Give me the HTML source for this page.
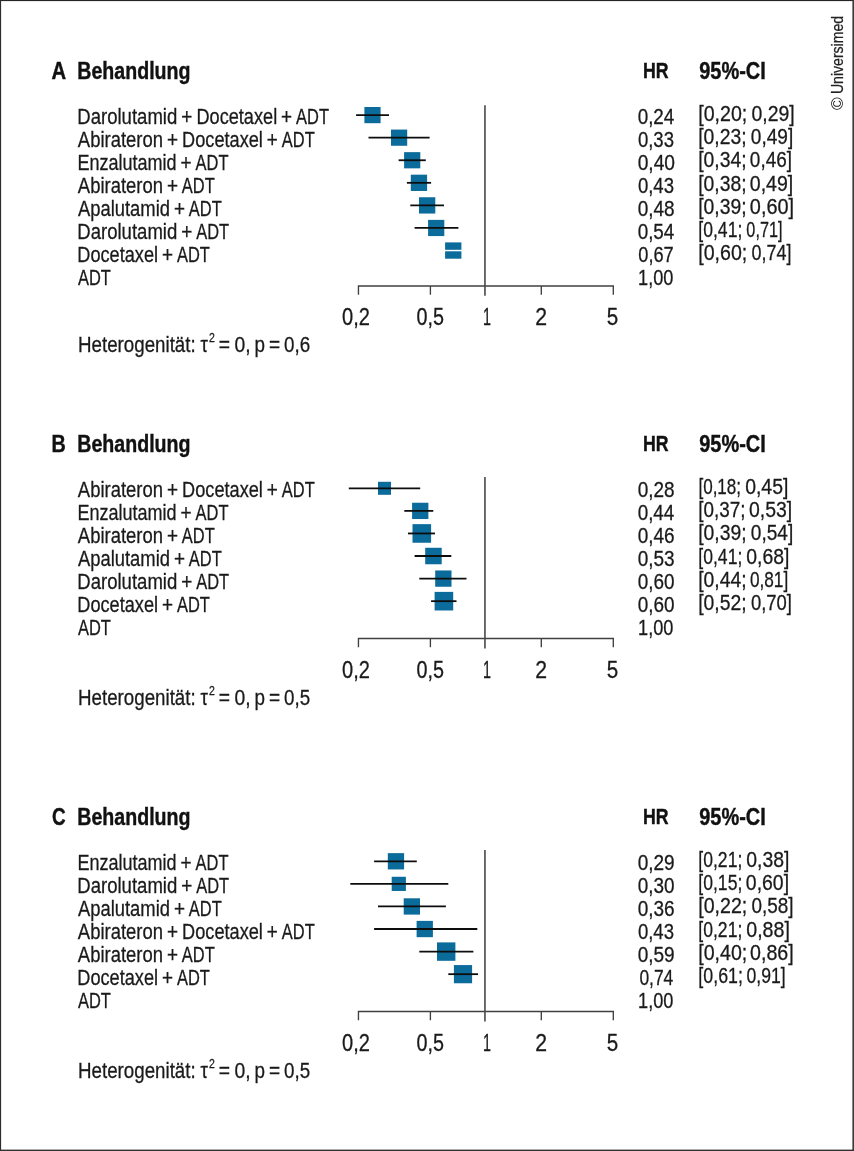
<!DOCTYPE html>
<html lang="de"><head><meta charset="utf-8"><title>Forest plots</title>
<style>
html,body{margin:0;padding:0;background:#fff}
body{width:854px;height:1151px;overflow:hidden;position:relative}
svg{display:block;position:absolute;left:0;top:0}
text{font-family:"Liberation Sans",sans-serif;fill:#1a1a1a;stroke:#1a1a1a;stroke-width:0.3px}
.r{font-size:22.5px}
.h{font-size:22.7px}
.ci{font-size:22.8px}
.t{font-size:23.8px}
.sup{font-size:13.2px}
.b{font-size:23.1px;font-weight:bold;fill:#111;stroke:#111;stroke-width:0.4px}
.b2{font-size:22.1px;font-weight:bold;fill:#111;stroke:#111;stroke-width:0.4px}
.b3{font-size:23.2px;font-weight:bold;fill:#111;stroke:#111;stroke-width:0.4px}
.c{font-size:16.6px}
.c{fill:#222;stroke:#222;stroke-width:0.25px}
</style></head><body>
<svg width="854" height="1151" viewBox="0 0 854 1151">
<rect x="0" y="0" width="854" height="1151" fill="#fff"/>
<rect x="0" y="0" width="854" height="1.1" fill="#262626"/>
<rect x="0" y="0" width="1.1" height="1151" fill="#2c2c2c"/>
<rect x="852.4" y="0" width="1.6" height="1151" fill="#3a3a3a"/>
<rect x="0" y="1149.6" width="854" height="1.4" fill="#333"/>
<g>
<text class="b" x="51.51" y="78.90" textLength="14.62" lengthAdjust="spacingAndGlyphs">A</text>
<text class="b" x="77.31" y="78.90" textLength="113.19" lengthAdjust="spacingAndGlyphs">Behandlung</text>
<text class="b2" x="642.93" y="77.60" textLength="25.63" lengthAdjust="spacingAndGlyphs">HR</text>
<text class="b3" x="699.22" y="79.20" textLength="66.61" lengthAdjust="spacingAndGlyphs">95%-CI</text>
<path d="M358.45 294.8 V285.95 H613.3 V294.8 M430.4 285.95 v8.8 M541.3 285.95 v8.8" fill="none" stroke="#404040" stroke-width="1.35"/>
<path d="M484.95 105.3 V295.8" stroke="#484848" stroke-width="1.6" fill="none"/>
<text class="t" x="342.12" y="325.15" textLength="27.89" lengthAdjust="spacingAndGlyphs">0,2</text>
<text class="t" x="416.53" y="325.15" textLength="27.48" lengthAdjust="spacingAndGlyphs">0,5</text>
<text class="t" x="482.91" y="325.15" textLength="7.98" lengthAdjust="spacingAndGlyphs">1</text>
<text class="t" x="535.34" y="325.15" textLength="11.83" lengthAdjust="spacingAndGlyphs">2</text>
<text class="t" x="606.67" y="325.15" textLength="11.47" lengthAdjust="spacingAndGlyphs">5</text>
<text class="r" y="123.80"><tspan x="77.28" textLength="100.01" lengthAdjust="spacingAndGlyphs">Darolutamid</tspan> <tspan x="181.19" textLength="11.03" lengthAdjust="spacingAndGlyphs">+</tspan> <tspan x="196.41" textLength="80.79" lengthAdjust="spacingAndGlyphs">Docetaxel</tspan> <tspan x="281.09" textLength="11.03" lengthAdjust="spacingAndGlyphs">+</tspan> <tspan x="296.07" textLength="32.91" lengthAdjust="spacingAndGlyphs">ADT</tspan></text>
<text class="h" x="637.66" y="123.60" textLength="36.69" lengthAdjust="spacingAndGlyphs">0,24</text>
<text class="ci" y="121.35"><tspan x="698.21" textLength="49.06" lengthAdjust="spacingAndGlyphs">[0,20;</tspan> <tspan x="751.54" textLength="43.24" lengthAdjust="spacingAndGlyphs">0,29]</tspan></text>
<rect x="364.4" y="107.00" width="16.2" height="16.2" fill="#0b6b9b"/>
<path d="M356.1 115.10 H389.0" stroke="#0d0d0d" stroke-width="1.8" fill="none"/>
<text class="r" y="146.80"><tspan x="77.86" textLength="85.11" lengthAdjust="spacingAndGlyphs">Abirateron</tspan> <tspan x="166.89" textLength="11.03" lengthAdjust="spacingAndGlyphs">+</tspan> <tspan x="182.11" textLength="80.79" lengthAdjust="spacingAndGlyphs">Docetaxel</tspan> <tspan x="266.79" textLength="11.03" lengthAdjust="spacingAndGlyphs">+</tspan> <tspan x="281.77" textLength="32.91" lengthAdjust="spacingAndGlyphs">ADT</tspan></text>
<text class="h" x="637.88" y="146.63" textLength="36.13" lengthAdjust="spacingAndGlyphs">0,33</text>
<text class="ci" y="144.42"><tspan x="698.23" textLength="48.41" lengthAdjust="spacingAndGlyphs">[0,23;</tspan> <tspan x="750.86" textLength="42.40" lengthAdjust="spacingAndGlyphs">0,49]</tspan></text>
<rect x="391.0" y="129.57" width="16.2" height="16.2" fill="#0b6b9b"/>
<path d="M368.5 137.67 H429.6" stroke="#0d0d0d" stroke-width="1.8" fill="none"/>
<text class="r" y="169.80"><tspan x="77.52" textLength="99.13" lengthAdjust="spacingAndGlyphs">Enzalutamid</tspan> <tspan x="180.59" textLength="11.03" lengthAdjust="spacingAndGlyphs">+</tspan> <tspan x="195.57" textLength="32.91" lengthAdjust="spacingAndGlyphs">ADT</tspan></text>
<text class="h" x="637.65" y="169.66" textLength="37.38" lengthAdjust="spacingAndGlyphs">0,40</text>
<text class="ci" y="167.49"><tspan x="698.23" textLength="48.41" lengthAdjust="spacingAndGlyphs">[0,34;</tspan> <tspan x="749.86" textLength="42.08" lengthAdjust="spacingAndGlyphs">0,46]</tspan></text>
<rect x="404.1" y="152.15" width="16.2" height="16.2" fill="#0b6b9b"/>
<path d="M398.6 160.25 H425.8" stroke="#0d0d0d" stroke-width="1.8" fill="none"/>
<text class="r" y="192.80"><tspan x="77.86" textLength="85.11" lengthAdjust="spacingAndGlyphs">Abirateron</tspan> <tspan x="166.89" textLength="11.03" lengthAdjust="spacingAndGlyphs">+</tspan> <tspan x="181.87" textLength="32.91" lengthAdjust="spacingAndGlyphs">ADT</tspan></text>
<text class="h" x="637.88" y="192.69" textLength="36.13" lengthAdjust="spacingAndGlyphs">0,43</text>
<text class="ci" y="190.56"><tspan x="698.23" textLength="48.41" lengthAdjust="spacingAndGlyphs">[0,38;</tspan> <tspan x="749.84" textLength="43.45" lengthAdjust="spacingAndGlyphs">0,49]</tspan></text>
<rect x="410.8" y="174.67" width="16.3" height="16.3" fill="#0b6b9b"/>
<path d="M406.9 182.82 H431.1" stroke="#0d0d0d" stroke-width="1.8" fill="none"/>
<text class="r" y="215.80"><tspan x="77.96" textLength="92.01" lengthAdjust="spacingAndGlyphs">Apalutamid</tspan> <tspan x="173.89" textLength="11.03" lengthAdjust="spacingAndGlyphs">+</tspan> <tspan x="188.87" textLength="32.91" lengthAdjust="spacingAndGlyphs">ADT</tspan></text>
<text class="h" x="637.66" y="215.72" textLength="36.96" lengthAdjust="spacingAndGlyphs">0,48</text>
<text class="ci" y="213.63"><tspan x="698.23" textLength="48.41" lengthAdjust="spacingAndGlyphs">[0,39;</tspan> <tspan x="749.82" textLength="44.29" lengthAdjust="spacingAndGlyphs">0,60]</tspan></text>
<rect x="419.0" y="197.25" width="16.3" height="16.3" fill="#0b6b9b"/>
<path d="M410.3 205.40 H444.0" stroke="#0d0d0d" stroke-width="1.8" fill="none"/>
<text class="r" y="238.80"><tspan x="77.28" textLength="100.01" lengthAdjust="spacingAndGlyphs">Darolutamid</tspan> <tspan x="181.19" textLength="11.03" lengthAdjust="spacingAndGlyphs">+</tspan> <tspan x="196.17" textLength="32.91" lengthAdjust="spacingAndGlyphs">ADT</tspan></text>
<text class="h" x="637.66" y="238.75" textLength="36.69" lengthAdjust="spacingAndGlyphs">0,54</text>
<text class="ci" y="236.70"><tspan x="698.35" textLength="43.93" lengthAdjust="spacingAndGlyphs">[0,41;</tspan> <tspan x="746.37" textLength="36.09" lengthAdjust="spacingAndGlyphs">0,71]</tspan></text>
<rect x="428.1" y="219.88" width="16.2" height="16.2" fill="#0b6b9b"/>
<path d="M414.6 227.97 H458.4" stroke="#0d0d0d" stroke-width="1.8" fill="none"/>
<text class="r" y="261.80"><tspan x="77.31" textLength="80.79" lengthAdjust="spacingAndGlyphs">Docetaxel</tspan> <tspan x="161.99" textLength="11.03" lengthAdjust="spacingAndGlyphs">+</tspan> <tspan x="176.97" textLength="32.91" lengthAdjust="spacingAndGlyphs">ADT</tspan></text>
<text class="h" x="638.29" y="261.78" textLength="35.43" lengthAdjust="spacingAndGlyphs">0,67</text>
<text class="ci" y="259.77"><tspan x="698.21" textLength="49.06" lengthAdjust="spacingAndGlyphs">[0,60;</tspan> <tspan x="751.60" textLength="39.87" lengthAdjust="spacingAndGlyphs">0,74]</tspan></text>
<rect x="445.1" y="242.40" width="16.3" height="16.3" fill="#0b6b9b"/>
<path d="M444.6 250.55 H461.9" stroke="#fff" stroke-width="1.5" fill="none"/>
<text class="r" y="284.80"><tspan x="77.97" textLength="32.91" lengthAdjust="spacingAndGlyphs">ADT</tspan></text>
<text class="h" x="638.12" y="284.81" textLength="35.38" lengthAdjust="spacingAndGlyphs">1,00</text>
<text class="r" y="351.75"><tspan x="78.06" textLength="117.64" lengthAdjust="spacingAndGlyphs">Heterogenität:</tspan> <tspan x="200.54" textLength="7.41" lengthAdjust="spacingAndGlyphs">τ</tspan></text>
<text class="sup" x="209.07" y="341.95" textLength="5.85" lengthAdjust="spacingAndGlyphs">2</text>
<text class="r" y="351.75"><tspan x="218.87" textLength="11.27" lengthAdjust="spacingAndGlyphs">=</tspan> <tspan x="234.45" textLength="16.09" lengthAdjust="spacingAndGlyphs">0,</tspan> <tspan x="254.49" textLength="10.48" lengthAdjust="spacingAndGlyphs">p</tspan> <tspan x="268.88" textLength="11.15" lengthAdjust="spacingAndGlyphs">=</tspan> <tspan x="283.97" textLength="26.14" lengthAdjust="spacingAndGlyphs">0,6</tspan></text>
</g>
<g>
<text class="b" x="51.59" y="451.90" textLength="14.30" lengthAdjust="spacingAndGlyphs">B</text>
<text class="b" x="77.31" y="451.90" textLength="113.19" lengthAdjust="spacingAndGlyphs">Behandlung</text>
<text class="b2" x="642.93" y="450.60" textLength="25.63" lengthAdjust="spacingAndGlyphs">HR</text>
<text class="b3" x="699.22" y="452.20" textLength="66.61" lengthAdjust="spacingAndGlyphs">95%-CI</text>
<path d="M358.45 647.3 V638.5 H613.3 V647.3 M430.4 638.5 v8.8 M541.3 638.5 v8.8" fill="none" stroke="#404040" stroke-width="1.35"/>
<path d="M484.95 477.1 V648.4" stroke="#484848" stroke-width="1.6" fill="none"/>
<text class="t" x="342.12" y="677.70" textLength="27.89" lengthAdjust="spacingAndGlyphs">0,2</text>
<text class="t" x="416.53" y="677.70" textLength="27.48" lengthAdjust="spacingAndGlyphs">0,5</text>
<text class="t" x="482.91" y="677.70" textLength="7.98" lengthAdjust="spacingAndGlyphs">1</text>
<text class="t" x="535.34" y="677.70" textLength="11.83" lengthAdjust="spacingAndGlyphs">2</text>
<text class="t" x="606.67" y="677.70" textLength="11.47" lengthAdjust="spacingAndGlyphs">5</text>
<text class="r" y="496.80"><tspan x="77.86" textLength="85.11" lengthAdjust="spacingAndGlyphs">Abirateron</tspan> <tspan x="166.89" textLength="11.03" lengthAdjust="spacingAndGlyphs">+</tspan> <tspan x="182.11" textLength="80.79" lengthAdjust="spacingAndGlyphs">Docetaxel</tspan> <tspan x="266.79" textLength="11.03" lengthAdjust="spacingAndGlyphs">+</tspan> <tspan x="281.77" textLength="32.91" lengthAdjust="spacingAndGlyphs">ADT</tspan></text>
<text class="h" x="637.66" y="496.60" textLength="36.96" lengthAdjust="spacingAndGlyphs">0,28</text>
<text class="ci" y="494.35"><tspan x="698.39" textLength="42.75" lengthAdjust="spacingAndGlyphs">[0,18;</tspan> <tspan x="745.14" textLength="43.24" lengthAdjust="spacingAndGlyphs">0,45]</tspan></text>
<rect x="378.0" y="481.80" width="13.0" height="13.0" fill="#0b6b9b"/>
<path d="M348.8 488.30 H420.2" stroke="#0d0d0d" stroke-width="1.8" fill="none"/>
<text class="r" y="519.80"><tspan x="77.52" textLength="99.13" lengthAdjust="spacingAndGlyphs">Enzalutamid</tspan> <tspan x="180.59" textLength="11.03" lengthAdjust="spacingAndGlyphs">+</tspan> <tspan x="195.57" textLength="32.91" lengthAdjust="spacingAndGlyphs">ADT</tspan></text>
<text class="h" x="637.66" y="519.63" textLength="36.69" lengthAdjust="spacingAndGlyphs">0,44</text>
<text class="ci" y="517.42"><tspan x="698.26" textLength="47.24" lengthAdjust="spacingAndGlyphs">[0,37;</tspan> <tspan x="748.94" textLength="43.24" lengthAdjust="spacingAndGlyphs">0,53]</tspan></text>
<rect x="412.1" y="502.73" width="16.3" height="16.3" fill="#0b6b9b"/>
<path d="M404.3 510.88 H433.3" stroke="#0d0d0d" stroke-width="1.8" fill="none"/>
<text class="r" y="542.80"><tspan x="77.86" textLength="85.11" lengthAdjust="spacingAndGlyphs">Abirateron</tspan> <tspan x="166.89" textLength="11.03" lengthAdjust="spacingAndGlyphs">+</tspan> <tspan x="181.87" textLength="32.91" lengthAdjust="spacingAndGlyphs">ADT</tspan></text>
<text class="h" x="637.66" y="542.66" textLength="36.96" lengthAdjust="spacingAndGlyphs">0,46</text>
<text class="ci" y="540.49"><tspan x="698.23" textLength="48.41" lengthAdjust="spacingAndGlyphs">[0,39;</tspan> <tspan x="750.86" textLength="42.40" lengthAdjust="spacingAndGlyphs">0,54]</tspan></text>
<rect x="412.5" y="524.15" width="18.6" height="18.6" fill="#0b6b9b"/>
<path d="M408.0 533.45 H435.0" stroke="#0d0d0d" stroke-width="1.8" fill="none"/>
<text class="r" y="565.80"><tspan x="77.96" textLength="92.01" lengthAdjust="spacingAndGlyphs">Apalutamid</tspan> <tspan x="173.89" textLength="11.03" lengthAdjust="spacingAndGlyphs">+</tspan> <tspan x="188.87" textLength="32.91" lengthAdjust="spacingAndGlyphs">ADT</tspan></text>
<text class="h" x="637.66" y="565.69" textLength="36.96" lengthAdjust="spacingAndGlyphs">0,53</text>
<text class="ci" y="563.56"><tspan x="698.35" textLength="43.93" lengthAdjust="spacingAndGlyphs">[0,41;</tspan> <tspan x="746.24" textLength="43.24" lengthAdjust="spacingAndGlyphs">0,68]</tspan></text>
<rect x="425.2" y="547.77" width="16.5" height="16.5" fill="#0b6b9b"/>
<path d="M414.6 556.02 H451.3" stroke="#0d0d0d" stroke-width="1.8" fill="none"/>
<text class="r" y="588.80"><tspan x="77.28" textLength="100.01" lengthAdjust="spacingAndGlyphs">Darolutamid</tspan> <tspan x="181.19" textLength="11.03" lengthAdjust="spacingAndGlyphs">+</tspan> <tspan x="196.17" textLength="32.91" lengthAdjust="spacingAndGlyphs">ADT</tspan></text>
<text class="h" x="637.66" y="588.72" textLength="36.86" lengthAdjust="spacingAndGlyphs">0,60</text>
<text class="ci" y="586.63"><tspan x="698.23" textLength="48.41" lengthAdjust="spacingAndGlyphs">[0,44;</tspan> <tspan x="749.93" textLength="38.30" lengthAdjust="spacingAndGlyphs">0,81]</tspan></text>
<rect x="435.2" y="570.45" width="16.3" height="16.3" fill="#0b6b9b"/>
<path d="M419.3 578.60 H466.5" stroke="#0d0d0d" stroke-width="1.8" fill="none"/>
<text class="r" y="611.80"><tspan x="77.31" textLength="80.79" lengthAdjust="spacingAndGlyphs">Docetaxel</tspan> <tspan x="161.99" textLength="11.03" lengthAdjust="spacingAndGlyphs">+</tspan> <tspan x="176.97" textLength="32.91" lengthAdjust="spacingAndGlyphs">ADT</tspan></text>
<text class="h" x="637.66" y="611.75" textLength="36.86" lengthAdjust="spacingAndGlyphs">0,60</text>
<text class="ci" y="609.70"><tspan x="698.23" textLength="48.41" lengthAdjust="spacingAndGlyphs">[0,52;</tspan> <tspan x="750.88" textLength="41.03" lengthAdjust="spacingAndGlyphs">0,70]</tspan></text>
<rect x="434.6" y="591.88" width="18.6" height="18.6" fill="#0b6b9b"/>
<path d="M431.1 601.17 H456.5" stroke="#0d0d0d" stroke-width="1.8" fill="none"/>
<text class="r" y="634.80"><tspan x="77.97" textLength="32.91" lengthAdjust="spacingAndGlyphs">ADT</tspan></text>
<text class="h" x="638.12" y="634.78" textLength="35.38" lengthAdjust="spacingAndGlyphs">1,00</text>
<text class="r" y="704.60"><tspan x="78.06" textLength="117.64" lengthAdjust="spacingAndGlyphs">Heterogenität:</tspan> <tspan x="200.54" textLength="7.41" lengthAdjust="spacingAndGlyphs">τ</tspan></text>
<text class="sup" x="209.07" y="694.80" textLength="5.85" lengthAdjust="spacingAndGlyphs">2</text>
<text class="r" y="704.60"><tspan x="218.87" textLength="11.27" lengthAdjust="spacingAndGlyphs">=</tspan> <tspan x="234.45" textLength="16.09" lengthAdjust="spacingAndGlyphs">0,</tspan> <tspan x="254.49" textLength="10.48" lengthAdjust="spacingAndGlyphs">p</tspan> <tspan x="268.88" textLength="11.15" lengthAdjust="spacingAndGlyphs">=</tspan> <tspan x="283.97" textLength="26.10" lengthAdjust="spacingAndGlyphs">0,5</tspan></text>
</g>
<g>
<text class="b" x="51.92" y="824.90" textLength="13.69" lengthAdjust="spacingAndGlyphs">C</text>
<text class="b" x="77.31" y="824.90" textLength="113.19" lengthAdjust="spacingAndGlyphs">Behandlung</text>
<text class="b2" x="642.93" y="823.60" textLength="25.63" lengthAdjust="spacingAndGlyphs">HR</text>
<text class="b3" x="699.22" y="825.20" textLength="66.61" lengthAdjust="spacingAndGlyphs">95%-CI</text>
<path d="M358.45 1020.3 V1011.5 H613.3 V1020.3 M430.4 1011.5 v8.8 M541.3 1011.5 v8.8" fill="none" stroke="#404040" stroke-width="1.35"/>
<path d="M484.95 850.1 V1021.4" stroke="#484848" stroke-width="1.6" fill="none"/>
<text class="t" x="342.12" y="1050.70" textLength="27.89" lengthAdjust="spacingAndGlyphs">0,2</text>
<text class="t" x="416.53" y="1050.70" textLength="27.48" lengthAdjust="spacingAndGlyphs">0,5</text>
<text class="t" x="482.91" y="1050.70" textLength="7.98" lengthAdjust="spacingAndGlyphs">1</text>
<text class="t" x="535.34" y="1050.70" textLength="11.83" lengthAdjust="spacingAndGlyphs">2</text>
<text class="t" x="606.67" y="1050.70" textLength="11.47" lengthAdjust="spacingAndGlyphs">5</text>
<text class="r" y="869.80"><tspan x="77.52" textLength="99.13" lengthAdjust="spacingAndGlyphs">Enzalutamid</tspan> <tspan x="180.59" textLength="11.03" lengthAdjust="spacingAndGlyphs">+</tspan> <tspan x="195.57" textLength="32.91" lengthAdjust="spacingAndGlyphs">ADT</tspan></text>
<text class="h" x="637.66" y="869.60" textLength="37.04" lengthAdjust="spacingAndGlyphs">0,29</text>
<text class="ci" y="867.35"><tspan x="698.35" textLength="43.93" lengthAdjust="spacingAndGlyphs">[0,21;</tspan> <tspan x="746.24" textLength="43.24" lengthAdjust="spacingAndGlyphs">0,38]</tspan></text>
<rect x="387.8" y="853.15" width="16.3" height="16.3" fill="#0b6b9b"/>
<path d="M374.1 861.30 H416.8" stroke="#0d0d0d" stroke-width="1.8" fill="none"/>
<text class="r" y="892.80"><tspan x="77.28" textLength="100.01" lengthAdjust="spacingAndGlyphs">Darolutamid</tspan> <tspan x="181.19" textLength="11.03" lengthAdjust="spacingAndGlyphs">+</tspan> <tspan x="196.17" textLength="32.91" lengthAdjust="spacingAndGlyphs">ADT</tspan></text>
<text class="h" x="637.66" y="892.63" textLength="36.86" lengthAdjust="spacingAndGlyphs">0,30</text>
<text class="ci" y="890.42"><tspan x="698.35" textLength="43.93" lengthAdjust="spacingAndGlyphs">[0,15;</tspan> <tspan x="745.84" textLength="43.24" lengthAdjust="spacingAndGlyphs">0,60]</tspan></text>
<rect x="391.7" y="876.77" width="14.2" height="14.2" fill="#0b6b9b"/>
<path d="M350.3 883.88 H448.3" stroke="#0d0d0d" stroke-width="1.8" fill="none"/>
<text class="r" y="915.80"><tspan x="77.96" textLength="92.01" lengthAdjust="spacingAndGlyphs">Apalutamid</tspan> <tspan x="173.89" textLength="11.03" lengthAdjust="spacingAndGlyphs">+</tspan> <tspan x="188.87" textLength="32.91" lengthAdjust="spacingAndGlyphs">ADT</tspan></text>
<text class="h" x="637.66" y="915.66" textLength="36.96" lengthAdjust="spacingAndGlyphs">0,36</text>
<text class="ci" y="913.49"><tspan x="698.21" textLength="49.06" lengthAdjust="spacingAndGlyphs">[0,22;</tspan> <tspan x="751.56" textLength="42.08" lengthAdjust="spacingAndGlyphs">0,58]</tspan></text>
<rect x="403.7" y="898.30" width="16.3" height="16.3" fill="#0b6b9b"/>
<path d="M378.0 906.45 H445.9" stroke="#0d0d0d" stroke-width="1.8" fill="none"/>
<text class="r" y="938.80"><tspan x="77.86" textLength="85.11" lengthAdjust="spacingAndGlyphs">Abirateron</tspan> <tspan x="166.89" textLength="11.03" lengthAdjust="spacingAndGlyphs">+</tspan> <tspan x="182.11" textLength="80.79" lengthAdjust="spacingAndGlyphs">Docetaxel</tspan> <tspan x="266.79" textLength="11.03" lengthAdjust="spacingAndGlyphs">+</tspan> <tspan x="281.77" textLength="32.91" lengthAdjust="spacingAndGlyphs">ADT</tspan></text>
<text class="h" x="637.88" y="938.69" textLength="36.13" lengthAdjust="spacingAndGlyphs">0,43</text>
<text class="ci" y="936.56"><tspan x="698.35" textLength="43.93" lengthAdjust="spacingAndGlyphs">[0,21;</tspan> <tspan x="746.23" textLength="43.66" lengthAdjust="spacingAndGlyphs">0,88]</tspan></text>
<rect x="416.6" y="920.88" width="16.3" height="16.3" fill="#0b6b9b"/>
<path d="M374.1 929.02 H477.3" stroke="#0d0d0d" stroke-width="1.8" fill="none"/>
<text class="r" y="961.80"><tspan x="77.86" textLength="85.11" lengthAdjust="spacingAndGlyphs">Abirateron</tspan> <tspan x="166.89" textLength="11.03" lengthAdjust="spacingAndGlyphs">+</tspan> <tspan x="181.87" textLength="32.91" lengthAdjust="spacingAndGlyphs">ADT</tspan></text>
<text class="h" x="637.66" y="961.72" textLength="37.04" lengthAdjust="spacingAndGlyphs">0,59</text>
<text class="ci" y="959.63"><tspan x="698.21" textLength="49.06" lengthAdjust="spacingAndGlyphs">[0,40;</tspan> <tspan x="750.03" textLength="43.66" lengthAdjust="spacingAndGlyphs">0,86]</tspan></text>
<rect x="437.0" y="942.40" width="18.4" height="18.4" fill="#0b6b9b"/>
<path d="M419.3 951.60 H473.4" stroke="#0d0d0d" stroke-width="1.8" fill="none"/>
<text class="r" y="984.80"><tspan x="77.31" textLength="80.79" lengthAdjust="spacingAndGlyphs">Docetaxel</tspan> <tspan x="161.99" textLength="11.03" lengthAdjust="spacingAndGlyphs">+</tspan> <tspan x="176.97" textLength="32.91" lengthAdjust="spacingAndGlyphs">ADT</tspan></text>
<text class="h" x="639.42" y="984.75" textLength="33.89" lengthAdjust="spacingAndGlyphs">0,74</text>
<text class="ci" y="982.70"><tspan x="698.34" textLength="44.57" lengthAdjust="spacingAndGlyphs">[0,61;</tspan> <tspan x="746.51" textLength="39.24" lengthAdjust="spacingAndGlyphs">0,91]</tspan></text>
<rect x="453.9" y="965.07" width="18.2" height="18.2" fill="#0b6b9b"/>
<path d="M448.3 974.17 H478.1" stroke="#0d0d0d" stroke-width="1.8" fill="none"/>
<text class="r" y="1007.80"><tspan x="77.97" textLength="32.91" lengthAdjust="spacingAndGlyphs">ADT</tspan></text>
<text class="h" x="638.12" y="1007.78" textLength="35.38" lengthAdjust="spacingAndGlyphs">1,00</text>
<text class="r" y="1077.60"><tspan x="78.06" textLength="117.64" lengthAdjust="spacingAndGlyphs">Heterogenität:</tspan> <tspan x="200.54" textLength="7.41" lengthAdjust="spacingAndGlyphs">τ</tspan></text>
<text class="sup" x="209.07" y="1067.80" textLength="5.85" lengthAdjust="spacingAndGlyphs">2</text>
<text class="r" y="1077.60"><tspan x="218.87" textLength="11.27" lengthAdjust="spacingAndGlyphs">=</tspan> <tspan x="234.45" textLength="16.09" lengthAdjust="spacingAndGlyphs">0,</tspan> <tspan x="254.49" textLength="10.48" lengthAdjust="spacingAndGlyphs">p</tspan> <tspan x="268.88" textLength="11.15" lengthAdjust="spacingAndGlyphs">=</tspan> <tspan x="283.97" textLength="26.10" lengthAdjust="spacingAndGlyphs">0,5</tspan></text>
</g>
<text class="c" transform="translate(842.6,110) rotate(-90)" y="0"><tspan stroke="none" x="-0.06" textLength="12.82" lengthAdjust="spacingAndGlyphs">©</tspan> <tspan x="15.92" textLength="78.19" lengthAdjust="spacingAndGlyphs">Universimed</tspan></text>
</svg>
</body></html>
